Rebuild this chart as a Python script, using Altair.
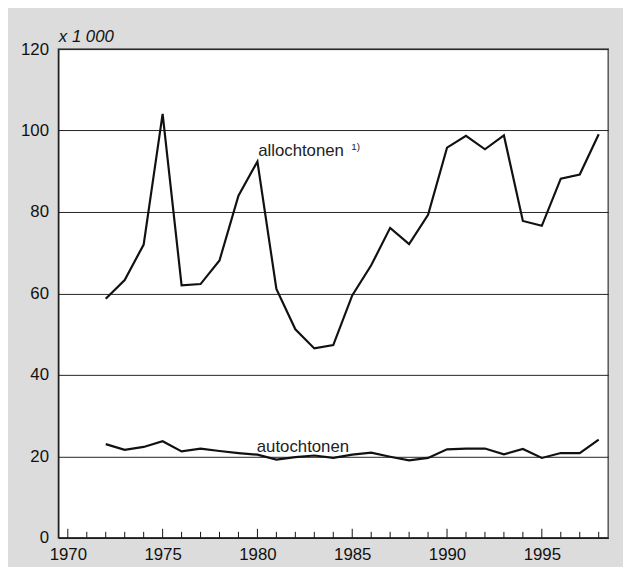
import altair as alt
import pandas as pd

years = list(range(1972, 1999))
allochtonen = [58.7, 63.3, 72.0, 104.1, 62.0, 62.3, 68.1, 84.0, 92.4, 61.1,
               51.2, 46.5, 47.3, 59.5, 66.9, 76.1, 72.1, 79.3, 95.8, 98.7,
               95.4, 98.8, 77.8, 76.6, 88.2, 89.2, 99.1]
autochtonen = [23.0, 21.6, 22.3, 23.7, 21.2, 21.9, 21.3, 20.8, 20.4, 19.2,
               19.8, 20.2, 19.6, 20.4, 20.9, 19.9, 19.0, 19.6, 21.7, 21.9,
               21.9, 20.5, 21.8, 19.6, 20.8, 20.8, 24.1]

label_text = ["allochtonen", "autochtonen"]
label_year = [1982.3, 1982.4]
label_value = [93.7, 21.1]
note_text = ["1)"]
note_year = [1984.95]
note_value = [95.3]

tick_years = list(range(1970, 1999))
tick_len = [2.2 if y % 5 == 0 else 1.45 for y in tick_years]
y_ticks = [0, 20, 40, 60, 80, 100, 120]
x_labels = [1970, 1975, 1980, 1985, 1990, 1995]

FONT = "Liberation Sans"

df = pd.DataFrame({
    "year": years * 2,
    "value": allochtonen + autochtonen,
    "series": ["allochtonen"] * len(years) + ["autochtonen"] * len(years),
})
lab = pd.DataFrame({"t": label_text, "year": label_year, "value": label_value})
note = pd.DataFrame({"t": note_text, "year": note_year, "value": note_value})
ticks = pd.DataFrame({"year": tick_years, "y0": [0] * len(tick_years), "y1": tick_len})

xs = alt.Scale(domain=[1969.5, 1998.5], nice=False, zero=False)
ys = alt.Scale(domain=[0, 120], nice=False)

lines = alt.Chart(df).mark_line(color="#111111", strokeWidth=2.2).encode(
    x=alt.X("year:Q", scale=xs,
            axis=alt.Axis(values=x_labels, format="d", title=None, ticks=False,
                          labelPadding=9, labelFontSize=17, labelFont=FONT,
                          labelColor="#111111", grid=False, domain=True,
                          domainColor="#111111", domainWidth=1.2)),
    y=alt.Y("value:Q", scale=ys,
            axis=alt.Axis(values=y_ticks, title="x 1 000", titleAngle=0,
                          titleAlign="left", titleBaseline="alphabetic",
                          titleX=0, titleY=-8, titleFontSize=17,
                          titleFontStyle="italic", titleFontWeight="normal",
                          titleFont=FONT, titleColor="#111111",
                          ticks=False, labelPadding=10, labelFontSize=17,
                          labelFont=FONT, labelColor="#111111",
                          grid=True, gridColor="#222222", gridWidth=1,
                          domain=True, domainColor="#111111", domainWidth=1.2)),
    detail="series:N",
)

tick_marks = alt.Chart(ticks).mark_rule(color="#111111", strokeWidth=1).encode(
    x=alt.X("year:Q", scale=xs),
    y=alt.Y("y0:Q", scale=ys),
    y2="y1:Q",
)

labels = alt.Chart(lab).mark_text(fontSize=17, font=FONT, color="#222222",
                                  align="center", baseline="alphabetic").encode(
    x=alt.X("year:Q", scale=xs), y=alt.Y("value:Q", scale=ys), text="t:N")

notes = alt.Chart(note).mark_text(fontSize=10, font=FONT, color="#222222",
                                  align="left", baseline="alphabetic").encode(
    x=alt.X("year:Q", scale=xs), y=alt.Y("value:Q", scale=ys), text="t:N")

chart = alt.layer(lines, tick_marks, labels, notes).properties(
    width=557, height=495,
    background="#dcdcdc",
    padding={"left": 51, "top": 38, "right": 15, "bottom": 26},
    autosize=alt.AutoSizeParams(type="none"),
).configure_view(
    fill="white", stroke="#555555", strokeWidth=1.5
)

chart.save("out.html", embed_options={"renderer": "svg", "actions": False})
